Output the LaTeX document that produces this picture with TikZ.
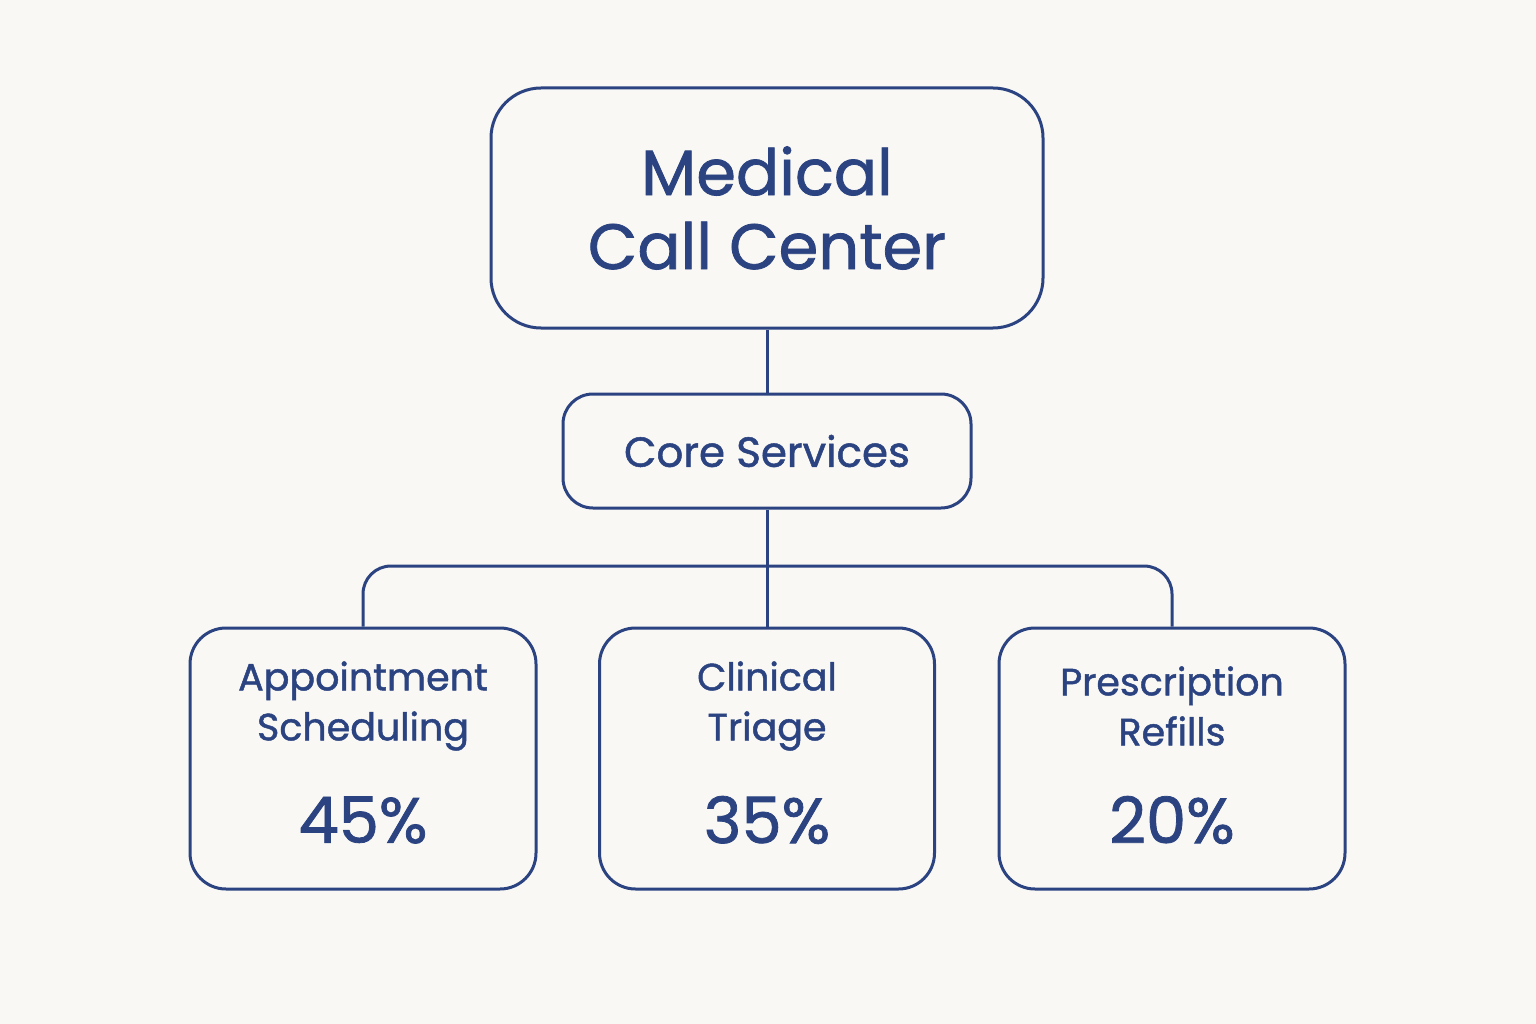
\documentclass[tikz,border=0pt]{standalone}
\usepackage{fontspec}
\setmainfont{Poppins}[FakeBold=1.2]
\definecolor{bg}{HTML}{F9F8F4}
\definecolor{ink}{HTML}{2B4380}
\begin{document}
\begin{tikzpicture}[x=1pt,y=-1pt,
  box/.style={draw=ink,line width=3pt,text=ink,align=center,inner sep=0pt},
  link/.style={draw=ink,line width=3pt,rounded corners=28pt}]
\fill[bg] (0,0) rectangle (1536,1024);
\useasboundingbox (0,0) rectangle (1536,1024);
\node[box,rounded corners=50pt,minimum width=552pt,minimum height=240pt,font=\fontsize{64}{74}\selectfont] (top) at (767,208)
  {Medical\\Call Center};
\node[box,rounded corners=30pt,minimum width=408pt,minimum height=114pt,font=\fontsize{42}{50}\selectfont] (core) at (767,451)
  {Core Services};
\foreach \n/\x/\w/\a/\b/\p in {a/363/346/Appointment/Scheduling/45\%, c/767/335/Clinical/Triage/35\%, p/1172/346/Prescription/Refills/20\%}{
  \node[box,rounded corners=36pt,minimum width=\w pt,minimum height=261pt] (\n) at (\x,758.5) {};
  \node[text=ink,align=center,font=\fontsize{38}{50}\selectfont] (\n t) at (\x,706) {\a\\\b};
  \node[text=ink,font=\fontsize{64}{70}\selectfont] (\n v) at (\x,820) {\p};
}
\coordinate (bus) at (767,566);
\draw[link] (top.south) -- (core.north);
\draw[link] (core.south) -- (c.north);
\draw[link] (a.north) |- (bus) -| (p.north);
\end{tikzpicture}
\end{document}
